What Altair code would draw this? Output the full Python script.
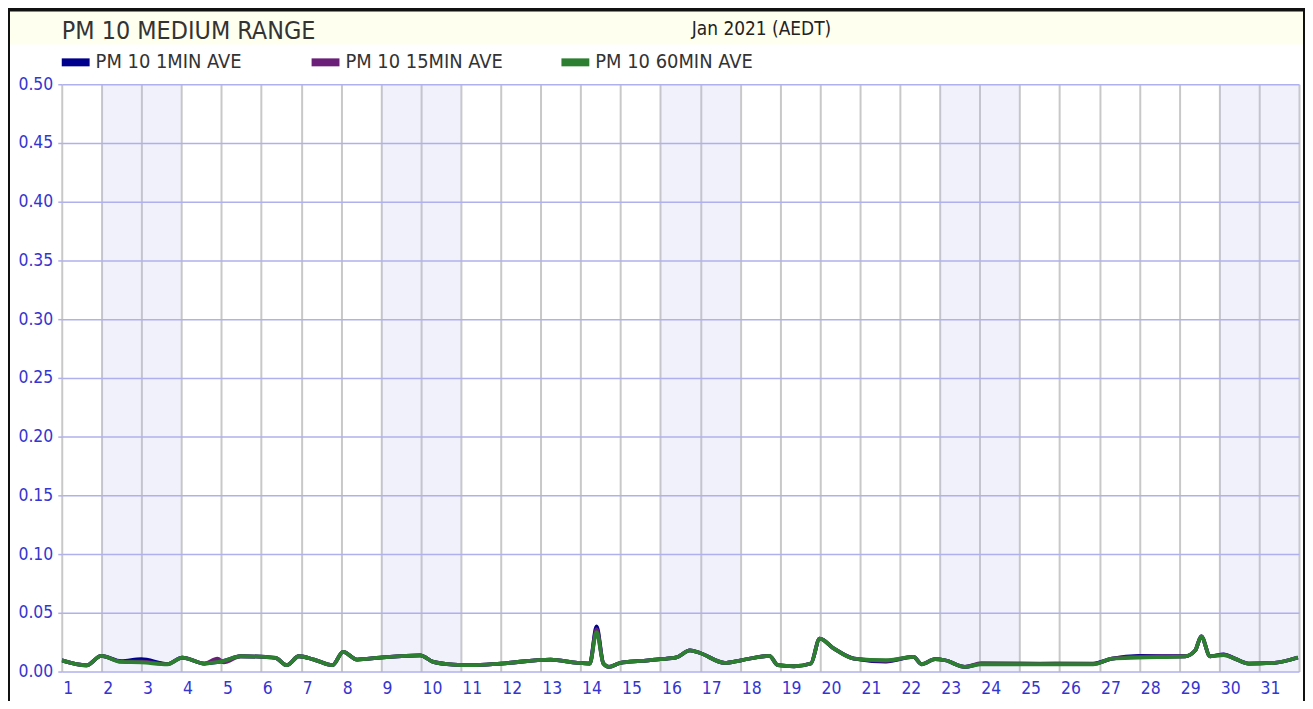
import altair as alt
import pandas as pd

# ---------------- data ----------------
series_names = ["PM 10 1MIN AVE", "PM 10 15MIN AVE", "PM 10 60MIN AVE"]
series_colors = ["#00008f", "#6b1f78", "#2c7f30"]

days = [1.0, 1.62, 1.99, 2.49, 2.99, 3.65, 4.02, 4.57, 4.90, 5.06, 5.48, 6.10,
        6.36, 6.64, 6.94, 7.32, 7.78, 8.05, 8.40, 8.98, 9.98, 10.31, 10.81, 11.27,
        12.0, 13.25, 13.92, 14.23, 14.40, 14.57, 14.71, 15.0, 15.5, 16.0, 16.4,
        16.74, 16.99, 17.61, 18.02, 18.73, 18.94, 19.35, 19.77, 19.99, 20.35, 20.85,
        21.65, 22.34, 22.55, 22.88, 23.13, 23.63, 24.04, 25.5, 26.84, 27.32, 27.98,
        29.15, 29.40, 29.55, 29.77, 30.11, 30.39, 30.74, 31.39, 31.97]

pm10_60min = [0.0095, 0.0053, 0.0133, 0.0082, 0.0078, 0.0062, 0.0119, 0.0068, 0.0080, 0.0090, 0.0130, 0.0124,
              0.0116, 0.0054, 0.0130, 0.0102, 0.0054, 0.0167, 0.0102, 0.0119, 0.0138, 0.0082, 0.0059, 0.0054,
              0.0068, 0.0102, 0.0074, 0.0068, 0.0336, 0.0068, 0.0040, 0.0074, 0.0090, 0.0105, 0.0120,
              0.0180, 0.0158, 0.0074, 0.0096, 0.0133, 0.0054, 0.0045, 0.0068, 0.0280, 0.0195, 0.0110,
              0.0096, 0.0124, 0.0062, 0.0105, 0.0096, 0.0040, 0.0062, 0.0062, 0.0062, 0.0110, 0.0119,
              0.0130, 0.0180, 0.0299, 0.0130, 0.0140, 0.0110, 0.0068, 0.0074, 0.0119]

pm10_1min = [0.0095, 0.0053, 0.0133, 0.0088, 0.0105, 0.0065, 0.0119, 0.0068, 0.0080, 0.0090, 0.0130, 0.0124,
             0.0116, 0.0054, 0.0130, 0.0102, 0.0054, 0.0167, 0.0102, 0.0119, 0.0138, 0.0082, 0.0059, 0.0054,
             0.0068, 0.0102, 0.0074, 0.0068, 0.0384, 0.0068, 0.0040, 0.0074, 0.0090, 0.0105, 0.0120,
             0.0180, 0.0158, 0.0074, 0.0096, 0.0133, 0.0054, 0.0045, 0.0068, 0.0280, 0.0195, 0.0110,
             0.0085, 0.0124, 0.0062, 0.0105, 0.0096, 0.0040, 0.0065, 0.0066, 0.0068, 0.0110, 0.0133,
             0.0130, 0.0180, 0.0299, 0.0130, 0.0147, 0.0110, 0.0068, 0.0074, 0.0119]

pm10_15min = [0.0095, 0.0053, 0.0133, 0.0084, 0.0085, 0.0063, 0.0119, 0.0068, 0.0110, 0.0078, 0.0130, 0.0124,
              0.0116, 0.0054, 0.0130, 0.0102, 0.0054, 0.0167, 0.0102, 0.0119, 0.0138, 0.0082, 0.0059, 0.0054,
              0.0068, 0.0102, 0.0074, 0.0068, 0.0360, 0.0068, 0.0040, 0.0074, 0.0090, 0.0105, 0.0120,
              0.0180, 0.0158, 0.0074, 0.0096, 0.0133, 0.0054, 0.0045, 0.0068, 0.0280, 0.0195, 0.0110,
              0.0090, 0.0124, 0.0062, 0.0105, 0.0096, 0.0040, 0.0072, 0.0068, 0.0065, 0.0110, 0.0126,
              0.0130, 0.0180, 0.0299, 0.0130, 0.0143, 0.0110, 0.0068, 0.0074, 0.0119]

weekend_start = [2, 9, 16, 23, 30]
weekend_end = [4, 11, 18, 25, 32]

x_ticks = list(range(1, 33))
y_ticks = [0.0, 0.05, 0.10, 0.15, 0.20, 0.25, 0.30, 0.35, 0.40, 0.45, 0.50]

chart_title = "PM 10 MEDIUM RANGE"
period_label = "Jan 2021 (AEDT)"

# ---------------- tables ----------------
rows = []
for name, vals in zip(series_names, [pm10_1min, pm10_15min, pm10_60min]):
    for d, v in zip(days, vals):
        rows.append({"day": d, "value": v, "series": name})
lines_df = pd.DataFrame(rows)
weekend_df = pd.DataFrame({"start": weekend_start, "end": weekend_end})

FONT = "DejaVu Sans Condensed"
W, H = 1243, 590

xscale = alt.Scale(domain=[1, 32], nice=False, zero=False)
yscale = alt.Scale(domain=[0, 0.5], nice=False)
cscale = alt.Scale(domain=series_names, range=series_colors)

x_axis = alt.Axis(values=x_ticks, format="d", title=None, grid=True, gridColor="#c8c8c8",
                  gridWidth=2, ticks=False, domain=False, labelAlign="left", labelOffset=1,
                  labelPadding=8, labelColor="#3535d0", labelFont=FONT, labelFontSize=17.5,
                  labelExpr="datum.value < 32 ? datum.label : ''")
y_axis = alt.Axis(values=y_ticks, format=".2f", title=None, grid=True, gridColor="#b0b0ee",
                  gridWidth=1.5, tickColor="#b0b0ee", tickSize=4, tickWidth=1.5, domain=False,
                  labelPadding=5, labelColor="#3535d0", labelFont=FONT, labelFontSize=17.5)

# top cream band and frame (decoration)
band = alt.Chart(pd.DataFrame({"k": [0]})).mark_rect(fill="#fffff0").encode(
    x=alt.value(-54), x2=alt.value(W + 6), y=alt.value(-75), y2=alt.value(-40))
frame = alt.Chart(pd.DataFrame({"k": [0]})).mark_rect(fill=None, stroke="#111111", strokeWidth=4).encode(
    x=alt.value(-54), x2=alt.value(W + 6), y=alt.value(-75), y2=alt.value(H + 60))

weekends = alt.Chart(weekend_df).mark_rect(fill="#b4b4f0", opacity=0.18).encode(
    x=alt.X("start:Q", scale=xscale, axis=x_axis),
    x2="end:Q",
    y=alt.value(0), y2=alt.value(H))

line_layers = []
for name in series_names:
    line_layers.append(
        alt.Chart(lines_df).transform_filter(alt.datum.series == name)
        .mark_line(strokeWidth=3.8, interpolate="monotone", clip=True)
        .encode(
            x=alt.X("day:Q", scale=xscale, axis=x_axis),
            y=alt.Y("value:Q", scale=yscale, axis=y_axis),
            color=alt.Color("series:N", scale=cscale, legend=alt.Legend(
                title=None, orient="none", legendX=-4, legendY=-40, direction="horizontal",
                columns=3, gridAlign="all", columnPadding=42, padding=0,
                symbolType="M-1,0H1", symbolSize=784, symbolStrokeWidth=8,
                labelFont=FONT, labelFontSize=20, labelColor="#333333", labelOffset=2)),
        )
    )

title_txt = alt.Chart(pd.DataFrame({"t": [chart_title]})).mark_text(
    align="left", baseline="alphabetic", font=FONT, fontSize=25, color="#333333").encode(
    text="t:N", x=alt.value(0), y=alt.value(-45))
period_txt = alt.Chart(pd.DataFrame({"t": [period_label]})).mark_text(
    align="center", baseline="alphabetic", font=FONT, fontSize=19, color="#222222").encode(
    text="t:N", x=alt.value(703), y=alt.value(-49))

chart = alt.layer(band, frame, weekends, *line_layers, title_txt, period_txt).properties(
    width=W, height=H,
    autosize=alt.AutoSizeParams(type="none"),
    padding={"left": 54, "top": 75, "right": 6, "bottom": 28},
    background="white",
).configure_view(stroke=None)

chart.save("out.html", embed_options={"renderer": "svg", "actions": False})
